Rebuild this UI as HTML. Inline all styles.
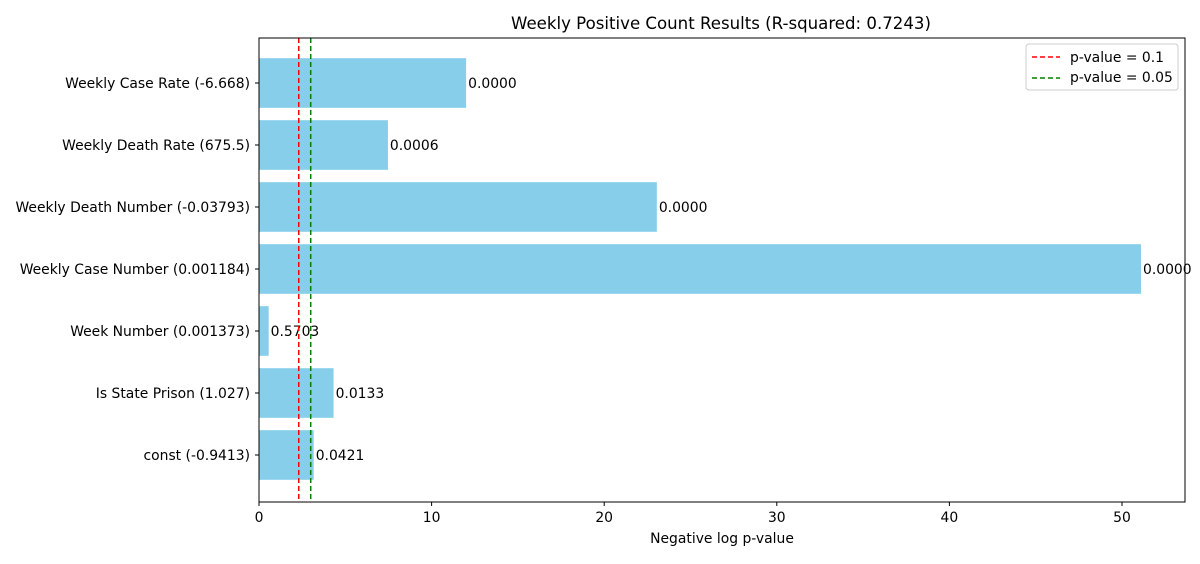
<!DOCTYPE html>
<html><head><meta charset="utf-8"><style>
body{margin:0;background:#fff;font-family:"DejaVu Sans",sans-serif;}
svg text{font-family:"DejaVu Sans",sans-serif;}
</style></head><body>
<svg id="chart" width="1200" height="560" xmlns="http://www.w3.org/2000/svg">
<rect width="1200" height="560" fill="#fff"/>
<text x="721" y="29" font-size="16.6" text-anchor="middle">Weekly Positive Count Results (R-squared: 0.7243)</text>
<g id="bars"></g><g id="ticks"></g><g id="lines"></g>
<rect x="259" y="38" width="926" height="464" fill="none" stroke="#000" stroke-width="1"/>
<text x="722" y="543" font-size="13.9" text-anchor="middle">Negative log p-value</text>
<g>
<rect x="1026" y="44" width="152" height="46" rx="3" fill="#fff" stroke="#ccc"/>
<line x1="1032" y1="57" x2="1060" y2="57" stroke="red" stroke-width="1.5" stroke-dasharray="5,3"/>
<text x="1070" y="62" font-size="13.9">p-value = 0.1</text>
<line x1="1032" y1="78" x2="1060" y2="78" stroke="green" stroke-width="1.5" stroke-dasharray="5,3"/>
<text x="1070" y="82" font-size="13.9">p-value = 0.05</text>
</g>
</svg>
<script>
const categories=["Weekly Case Rate (-6.668)","Weekly Death Rate (675.5)","Weekly Death Number (-0.03793)","Weekly Case Number (0.001184)","Week Number (0.001373)","Is State Prison (1.027)","const (-0.9413)"];
const values=[12.0,7.47,23.05,51.1,0.56,4.32,3.17];
const pLabels=["0.0000","0.0006","0.0000","0.0000","0.5703","0.0133","0.0421"];
const xTicks=[0,10,20,30,40,50];
const thresholds=[0.1,0.05];
const NS="http://www.w3.org/2000/svg";
const L=259,R=1185,T=38,B=502,XMAX=53.65;
const x=v=>L+v/XMAX*(R-L);
const pitch=62;
const y=i=>83+pitch*i;
function mk(tag,attrs,parent,txt){const e=document.createElementNS(NS,tag);for(const k in attrs)e.setAttribute(k,attrs[k]);if(txt!==undefined)e.textContent=txt;parent.appendChild(e);return e;}
const gb=document.getElementById('bars'),gt=document.getElementById('ticks'),gl=document.getElementById('lines');
categories.forEach((c,i)=>{
  const bh=pitch*0.8;
  const r=mk('rect',{x:L,y:y(i)-bh/2,width:x(values[i])-L,height:bh,fill:'#87ceeb'},gb);
  
  
  const t=mk('text',{x:x(values[i])+2,y:y(i)+5,'font-size':13.9},gb,pLabels[i]);
  
  
  mk('line',{x1:L-4,x2:L,y1:y(i),y2:y(i),stroke:'#000'},gt);
  const yl=mk('text',{x:L-9,y:y(i)+5,'font-size':13.9,'text-anchor':'end'},gt,c);
  
  
});
xTicks.forEach(v=>{
  mk('line',{x1:x(v),x2:x(v),y1:B,y2:B+4,stroke:'#000'},gt);
  const t=mk('text',{x:x(v),y:B+20,'font-size':13.9,'text-anchor':'middle'},gt,v);
  
  
});
const cols=['red','green'];
thresholds.forEach((p,i)=>{
  const v=-Math.log(p);
  const l=mk('line',{x1:x(v),x2:x(v),y1:T,y2:B,stroke:cols[i],'stroke-width':1.5,'stroke-dasharray':'5,3'},gl);
  
  
});
</script>
</body></html>
